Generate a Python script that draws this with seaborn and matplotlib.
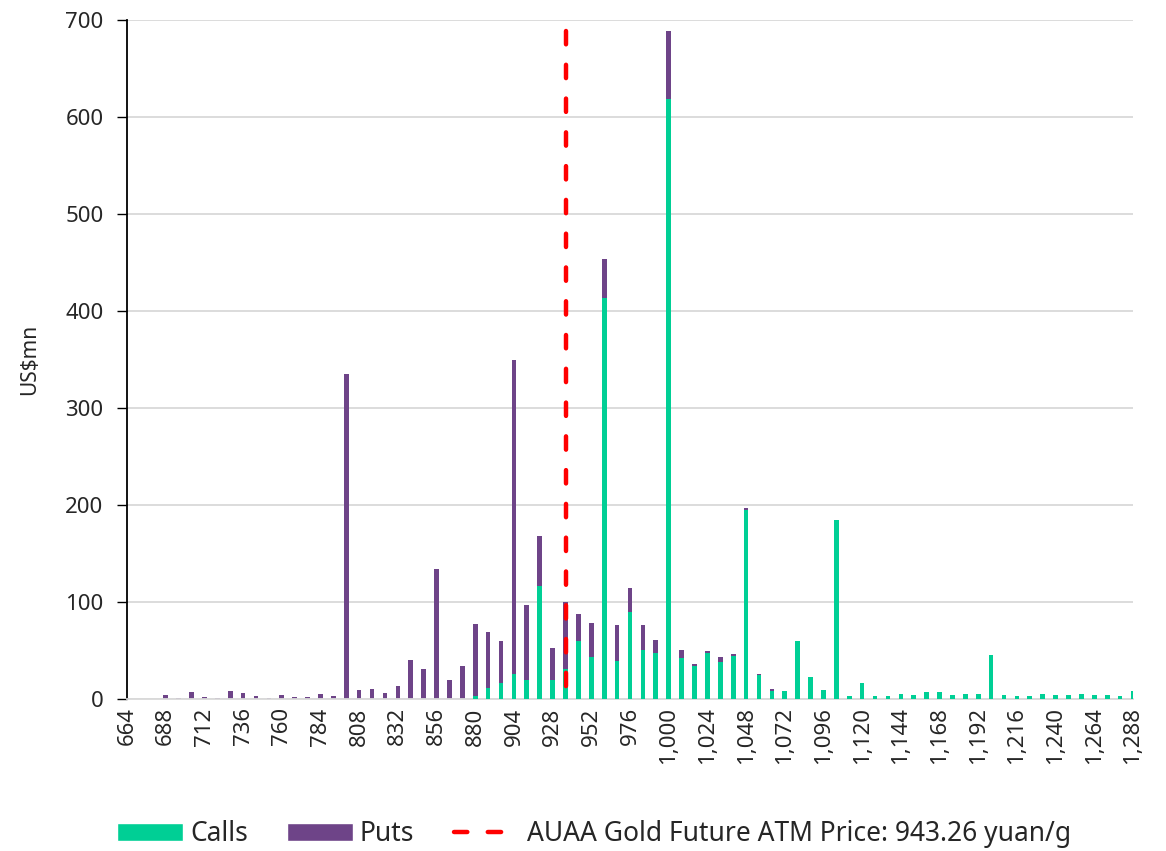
import numpy as np
import pandas as pd
import matplotlib
matplotlib.use('Agg')
import matplotlib.pyplot as plt
import seaborn as sns
from matplotlib.lines import Line2D
from matplotlib.patches import Patch
from matplotlib.ticker import FuncFormatter, MultipleLocator

# --- 데이터 (그림에서 읽은 값, US$mn) ---
strikes = list(range(664, 1289, 8))  # 행사가 (yuan/g)
calls = [
    0, 0, 0, 0, 0, 0, 0, 0, 0, 0,
    0, 0, 0, 0, 0, 0, 0, 0, 0, 0,
    0, 0, 0, 0, 0, 0, 0, 3, 11, 16,
    26, 20, 116.5, 20, 31, 60, 43, 413, 39, 90,
    51, 47, 619, 42, 34, 47, 38.5, 44, 195, 24.5,
    8, 8, 60, 23, 9, 185, 3, 16, 3.4, 2.7,
    5, 4, 7, 7.5, 4, 5, 5, 45.7, 4, 3,
    3.4, 5, 4, 4, 5.5, 4, 3.8, 3, 8,
]
puts = [
    1, 0, 0, 4.5, 1, 7, 2, 1, 8, 6,
    3, 1.5, 4.5, 2.5, 2, 5, 3, 335, 9, 10,
    6.5, 13, 40.5, 31, 134, 20, 34, 74, 58, 44,
    324, 76.5, 51.5, 33, 69, 28, 35, 41, 37, 24,
    25, 14, 70, 9, 2, 3, 4.5, 2, 2, 1,
    2, 0, 0, 0, 0, 0, 0, 0, 0, 0,
    0, 0, 0, 0, 0, 0, 0, 0, 0, 0,
    0, 0, 0, 0, 0, 0, 0, 0, 0,
]
ATM_PRICE = 943.26
ATM_LABEL = f'AUAA Gold Future ATM Price: {ATM_PRICE} yuan/g'

CALL_COLOR = '#00CF95'
PUT_COLOR = '#6E4488'
GRID_COLOR = '#D9D9D9'
ATM_DASH = (0, (3.0, 4.6))

df = pd.DataFrame({'strike': strikes, 'calls': calls, 'puts': puts})
df['total'] = df['calls'] + df['puts']

# 엑셀 범주축처럼 ATM 선은 ATM 이하 가장 가까운 행사가 위치에 그려져 있음
atm_x = df.loc[df['strike'] <= ATM_PRICE, 'strike'].max()

sns.set_style('white')
plt.rcParams['font.family'] = ['Noto Sans', 'DejaVu Sans']

fig = plt.figure(figsize=(11.66, 8.51), dpi=100)
ax = fig.add_axes([127 / 1166, 1 - 699 / 851, (1133 - 127) / 1166, (699 - 20) / 851])

# 누적 막대: 전체(풋) 먼저, 그 위에 콜
sns.barplot(data=df, x='strike', y='total', native_scale=True, color=PUT_COLOR,
            width=0.36, saturation=1, linewidth=0, ax=ax, zorder=2)
sns.barplot(data=df, x='strike', y='calls', native_scale=True, color=CALL_COLOR,
            width=0.36, saturation=1, linewidth=0, ax=ax, zorder=3)

# 위에서 아래로 그려 점선 패턴이 맨 위에서 시작하도록
ax.plot([atm_x, atm_x], [df['total'].max(), 0], color='#FF0000', linewidth=3.2,
        linestyle=ATM_DASH, dash_capstyle='round', zorder=4)

ax.set_xlim(strikes[0], strikes[-1])
ax.set_ylim(0, 700)
ax.yaxis.set_major_locator(MultipleLocator(100))
ax.set_xticks(strikes[::3])
ax.xaxis.set_major_formatter(FuncFormatter(lambda v, p: f'{int(round(v)):,}'))
ax.tick_params(axis='x', labelrotation=90, length=0, pad=6, labelsize=16)
ax.tick_params(axis='y', length=7, width=1, color='black', direction='out',
               labelsize=16, pad=10, left=True)

ax.grid(axis='y', color=GRID_COLOR, linewidth=1.3, zorder=0)
ax.set_axisbelow(True)
for side in ('top', 'right'):
    ax.spines[side].set_visible(False)
ax.spines['left'].set_color('black')
ax.spines['left'].set_linewidth(1.3)
ax.spines['bottom'].set_color(GRID_COLOR)
ax.spines['bottom'].set_linewidth(1.3)

ax.set_xlabel('')
ax.set_ylabel('US$mn', fontsize=15, labelpad=18)

handles = [
    Patch(facecolor=CALL_COLOR, label='Calls'),
    Patch(facecolor=PUT_COLOR, label='Puts'),
    Line2D([0], [0], color='#FF0000', linewidth=3.2, linestyle=ATM_DASH,
           dash_capstyle='round', label=ATM_LABEL),
]
fig.legend(handles=handles, loc='center', bbox_to_anchor=(594 / 1166, 1 - 834 / 851),
           ncol=3, frameon=False, fontsize=19, handlelength=2.5, handleheight=0.7,
           handletextpad=0.25, columnspacing=1.5)

fig.savefig('out.png', dpi=100)
